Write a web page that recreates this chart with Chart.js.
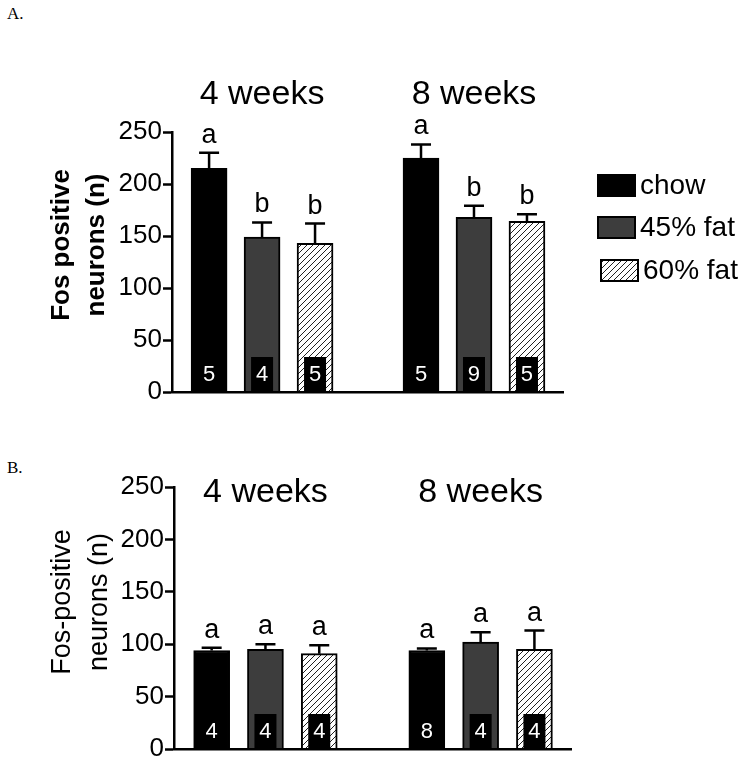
<!DOCTYPE html>
<html lang="en">
<head>
<meta charset="UTF-8">
<title>Fos positive neurons</title>
<script src="https://cdn.jsdelivr.net/npm/chart.js"></script>
<style>
  body { margin: 0; background: #fff; }
  .wrap { position: relative; width: 752px; height: 767px; overflow: hidden; }
  .panel-label { position: absolute; left: 7px; font-family: "Liberation Serif", "Times New Roman", serif; font-size: 17px; color: #000; }
  canvas { position: absolute; left: 0; }
</style>
</head>
<body>
<div class="wrap">
  <div class="panel-label" style="top:4px">A.</div>
  <div class="panel-label" style="top:458px">B.</div>
  <canvas id="chartA" width="752" height="420" style="top:0"></canvas>
  <canvas id="chartB" width="752" height="367" style="top:400px"></canvas>
</div>
<script>
const groups = ['4 weeks', '8 weeks'];
const diets = ['chow', '45% fat', '60% fat'];
const ticksY = [0, 50, 100, 150, 200, 250];

// A: Fos positive neurons, mean per diet for [4 weeks, 8 weeks]
const aChow = [215, 225];
const a45 = [149, 168];
const a60 = [143, 164];
// SEM (upper whisker only)
const aChowSem = [15, 13];
const a45Sem = [14, 11];
const a60Sem = [19, 7];
const aLetters = [['a', 'a'], ['b', 'b'], ['b', 'b']];
const aN = [[5, 5], [4, 9], [5, 5]];

// B
const bChow = [94, 94];
const b45 = [95, 102];
const b60 = [91, 95];
const bChowSem = [2.5, 2];
const b45Sem = [5, 9.5];
const b60Sem = [8, 18];
const bLetters = [['a', 'a'], ['a', 'a'], ['a', 'a']];
const bN = [[4, 8], [4, 4], [4, 4]];

const FONT = '"Liberation Sans", Arial, sans-serif';

function hatch() {
  const c = document.createElement('canvas');
  c.width = 6; c.height = 6;
  const g = c.getContext('2d');
  g.fillStyle = '#fff';
  g.fillRect(0, 0, 6, 6);
  g.strokeStyle = '#222';
  g.lineWidth = 1;
  g.beginPath();
  g.moveTo(0, 6); g.lineTo(6, 0);
  g.moveTo(-1, 1); g.lineTo(1, -1);
  g.moveTo(5, 7); g.lineTo(7, 5);
  g.stroke();
  return g.createPattern(c, 'repeat');
}
const fills = ['#000000', '#3d3d3d', hatch()];

function buildDatasets(means, sems, letters, ns) {
  return diets.map((d, i) => ({
    label: d,
    data: groups.map((g, j) => ({ x: j * 4 + i + 1, y: means[i][j] })),
    sem: sems[i],
    letters: letters[i],
    n: ns[i],
    backgroundColor: fills[i],
    borderColor: '#000',
    borderWidth: 2,
    barThickness: 36,
    grouped: false
  }));
}

// error bars, letters, n boxes, titles, legend
const overlay = {
  id: 'overlay',
  afterDatasetsDraw(chart, args, o) {
    const ctx = chart.ctx, xs = chart.scales.x, ys = chart.scales.y;
    const base = ys.getPixelForValue(0);
    ctx.save();
    chart.data.datasets.forEach((ds, i) => {
      chart.getDatasetMeta(i).data.forEach((bar, j) => {
        const top = ys.getPixelForValue(ds.data[j].y + ds.sem[j]);
        ctx.strokeStyle = '#000';
        ctx.lineWidth = 2.5;
        ctx.beginPath();
        ctx.moveTo(bar.x, bar.y);
        ctx.lineTo(bar.x, top);
        ctx.moveTo(bar.x - 10, top);
        ctx.lineTo(bar.x + 10, top);
        ctx.stroke();

        ctx.fillStyle = '#000';
        ctx.font = '27px ' + FONT;
        ctx.textAlign = 'center';
        ctx.textBaseline = 'alphabetic';
        ctx.fillText(ds.letters[j], bar.x, top - 10);

        ctx.fillRect(bar.x - 11, base - 35, 22, 35);
        ctx.fillStyle = '#fff';
        ctx.font = '22px ' + FONT;
        ctx.textBaseline = 'middle';
        ctx.fillText(String(ds.n[j]), bar.x, base - 17);
      });
    });

    // week titles
    ctx.fillStyle = '#000';
    ctx.font = '34px ' + FONT;
    ctx.textAlign = 'center';
    ctx.textBaseline = 'middle';
    groups.forEach((g, j) => ctx.fillText(g, xs.getPixelForValue(j * 4 + 2), o.weekY));

    // y title, two rotated lines
    ctx.font = o.yFont;
    o.yTitle.forEach((t, k) => {
      ctx.save();
      ctx.translate(o.yTitleX[k], o.yTitleY);
      ctx.rotate(-Math.PI / 2);
      ctx.fillText(t, 0, 0);
      ctx.restore();
    });

    if (o.legend) {
      ctx.textAlign = 'left';
      chart.data.datasets.forEach((ds, i) => {
        const lx = o.legendX[i], ly = o.legendY[i];
        ctx.fillStyle = ds.backgroundColor;
        ctx.fillRect(lx, ly, 37, 21);
        ctx.strokeStyle = '#000';
        ctx.lineWidth = 2;
        ctx.strokeRect(lx, ly, 37, 21);
        ctx.fillStyle = '#000';
        ctx.font = '28px ' + FONT;
        ctx.fillText(ds.label, lx + 42, ly + 11);
      });
    }
    ctx.restore();
  }
};

function makePanel(id, datasets, padding, yAxisWidth, o) {
  return new Chart(document.getElementById(id), {
    type: 'bar',
    data: { datasets: datasets },
    plugins: [overlay],
    options: {
      responsive: false,
      animation: false,
      events: [],
      layout: { padding: padding },
      plugins: { legend: { display: false }, tooltip: { enabled: false }, overlay: o },
      scales: {
        x: {
          type: 'linear', min: 0.3, max: 7.68, offset: false,
          ticks: { display: false },
          grid: { display: false },
          border: { display: true, color: '#000', width: 2.5, z: 1 },
          afterFit: s => { s.height = 0; }
        },
        y: {
          min: 0, max: 250,
          afterBuildTicks: s => { s.ticks = ticksY.map(v => ({ value: v })); },
          ticks: { color: '#000', padding: 1, font: { size: 26, family: FONT } },
          grid: { drawOnChartArea: false, drawTicks: true, tickLength: 9, tickWidth: 2.5, color: '#000' },
          border: { display: true, color: '#000', width: 2.5 },
          afterFit: s => { s.width = yAxisWidth; }
        }
      }
    }
  });
}

makePanel('chartA', buildDatasets([aChow, a45, a60], [aChowSem, a45Sem, a60Sem], aLetters, aN),
  { top: 132, right: 189, bottom: 28, left: 0 }, 172,
  { weekY: 95, yTitle: ['Fos positive', 'neurons (n)'], yFont: 'bold 26px ' + FONT,
    yTitleX: [62, 97], yTitleY: 245, legend: true,
    legendX: [598, 598, 601], legendY: [175, 217, 260] });

makePanel('chartB', buildDatasets([bChow, b45, b60], [bChowSem, b45Sem, b60Sem], bLetters, bN),
  { top: 87, right: 181, bottom: 18, left: 0 }, 174,
  { weekY: 93, yTitle: ['Fos-positive', 'neurons (n)'], yFont: '27px ' + FONT,
    yTitleX: [63, 100], yTitleY: 202, legend: false });
</script>
</body>
</html>
